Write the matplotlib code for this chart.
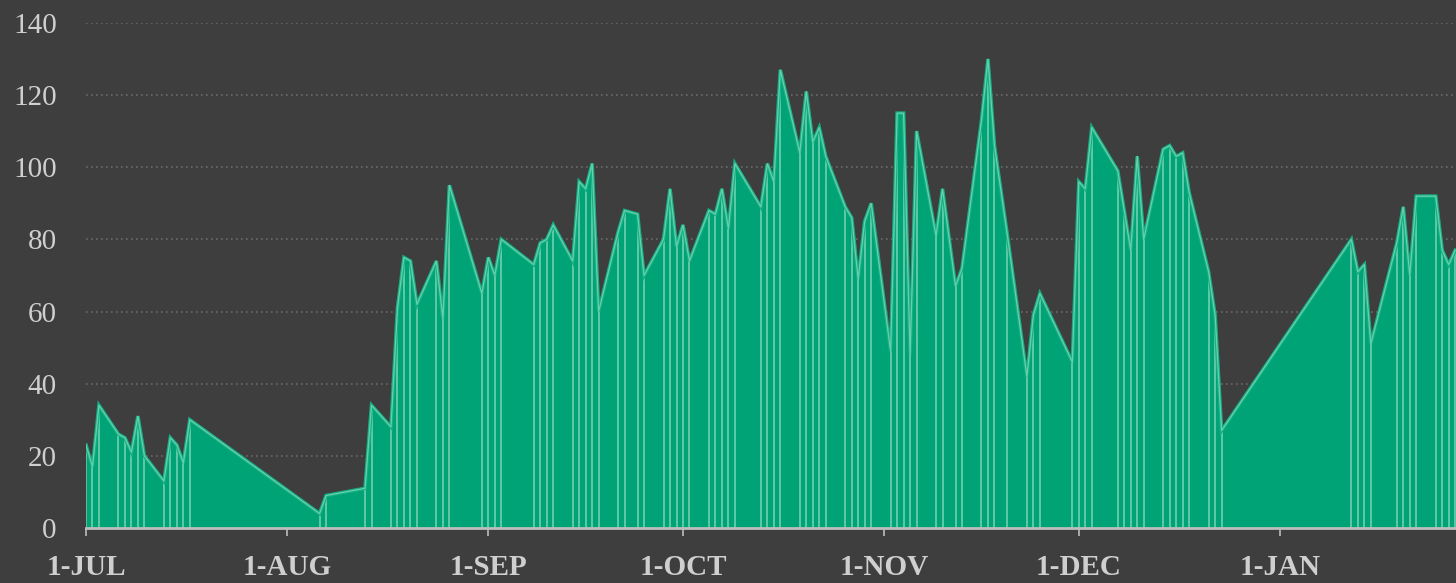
import matplotlib
matplotlib.use("Agg")
import matplotlib.pyplot as plt
import matplotlib.dates as mdates
import pandas as pd

# daily values (weekdays only)
dates = [
    "2020-07-01", "2020-07-02", "2020-07-03", "2020-07-06", "2020-07-07", "2020-07-08",
    "2020-07-09", "2020-07-10", "2020-07-13", "2020-07-14", "2020-07-15", "2020-07-16",
    "2020-07-17",
    "2020-08-06", "2020-08-07", "2020-08-13", "2020-08-14", "2020-08-17", "2020-08-18",
    "2020-08-19", "2020-08-20", "2020-08-21", "2020-08-24", "2020-08-25", "2020-08-26",
    "2020-08-31",
    "2020-09-01", "2020-09-02", "2020-09-03", "2020-09-08", "2020-09-09", "2020-09-10",
    "2020-09-11", "2020-09-14", "2020-09-15", "2020-09-16", "2020-09-17", "2020-09-18",
    "2020-09-21", "2020-09-22", "2020-09-24", "2020-09-25", "2020-09-28", "2020-09-29",
    "2020-09-30",
    "2020-10-01", "2020-10-02", "2020-10-05", "2020-10-06", "2020-10-07", "2020-10-08",
    "2020-10-09", "2020-10-13", "2020-10-14", "2020-10-15", "2020-10-16", "2020-10-19",
    "2020-10-20", "2020-10-21", "2020-10-22", "2020-10-23", "2020-10-26", "2020-10-27",
    "2020-10-28", "2020-10-29", "2020-10-30",
    "2020-11-02", "2020-11-03", "2020-11-04", "2020-11-05", "2020-11-06", "2020-11-09",
    "2020-11-10", "2020-11-12", "2020-11-13", "2020-11-16", "2020-11-17", "2020-11-18",
    "2020-11-20", "2020-11-23", "2020-11-24", "2020-11-25", "2020-11-30",
    "2020-12-01", "2020-12-02", "2020-12-03", "2020-12-07", "2020-12-08", "2020-12-09",
    "2020-12-10", "2020-12-11", "2020-12-14", "2020-12-15", "2020-12-16", "2020-12-17",
    "2020-12-18", "2020-12-21", "2020-12-22", "2020-12-23",
    "2021-01-12", "2021-01-13", "2021-01-14", "2021-01-15", "2021-01-19", "2021-01-20",
    "2021-01-21", "2021-01-22", "2021-01-25", "2021-01-26", "2021-01-27", "2021-01-28",
]
values = [
    23, 17, 34, 26, 25, 21, 31, 20, 13, 25, 23, 18, 30,
    4, 9, 11, 34, 28, 61, 75, 74, 62, 74, 58, 95, 65,
    75, 70, 80, 73, 79, 80, 84, 74, 96, 94, 101, 60, 82, 88, 87, 70, 80, 94, 78,
    84, 74, 88, 87, 94, 83, 101, 89, 101, 96, 127, 104, 121, 107, 111, 103,
    89, 86, 69, 85, 90,
    49, 115, 115, 48, 110, 81, 94, 67, 72, 113, 130, 106, 81, 42, 59, 65, 46,
    96, 94, 111, 99, 88, 77, 103, 80, 105, 106, 103, 104, 93, 71, 59, 27,
    80, 71, 73, 51, 79, 89, 70, 92, 92, 77, 73, 77,
]

month_starts = ["2020-07-01", "2020-08-01", "2020-09-01", "2020-10-01",
                "2020-11-01", "2020-12-01", "2021-01-01"]
month_labels = ["1-JUL", "1-AUG", "1-SEP", "1-OCT", "1-NOV", "1-DEC", "1-JAN"]
y_ticks = [0, 20, 40, 60, 80, 100, 120, 140]

bg = "#3e3e3e"
green = "#00a376"
mint = "#8fdcc0"
txt = "#cfcfcf"

x = pd.to_datetime(dates)

fig = plt.figure(figsize=(14.56, 5.83), dpi=100, facecolor=bg)
ax = fig.add_axes([86 / 1456, 55 / 583, 1 - 86 / 1456, 505 / 583])
ax.set_facecolor(bg)

ax.fill_between(x, 0, values, color=green, lw=0, zorder=2)
ax.vlines(x, 0, values, color=mint, lw=1.1, alpha=0.85, zorder=3)
ax.plot(x, values, color="#14b083", lw=2.6, zorder=4, solid_joinstyle="miter")
ax.plot(x, values, color=mint, lw=0.9, alpha=0.7, zorder=5)

ax.set_ylim(0, 140)
ax.set_xlim(pd.Timestamp("2020-07-01"), pd.Timestamp("2021-01-28 03:00"))

ax.set_yticks(y_ticks)
ax.set_yticklabels([str(v) for v in y_ticks])
ax.set_xticks(pd.to_datetime(month_starts))
ax.set_xticklabels(month_labels)

ax.grid(axis="y", color="#6a6a6a", ls=(0, (1, 2)), lw=1.2, zorder=1)
ax.grid(axis="x", visible=False)

for s in ["top", "right", "left"]:
    ax.spines[s].set_visible(False)
ax.spines["bottom"].set_color("#bdbdbd")
ax.spines["bottom"].set_linewidth(2)
ax.spines["bottom"].set_zorder(6)

ax.tick_params(axis="y", length=0, pad=21, labelsize=21, labelcolor=txt)
ax.tick_params(axis="x", length=6, width=1.2, color="#bdbdbd", pad=13,
               labelsize=21, labelcolor=txt)
for lab in ax.get_yticklabels():
    lab.set_fontfamily("Liberation Serif")
for lab in ax.get_xticklabels():
    lab.set_fontfamily("Liberation Serif")
    lab.set_fontweight("bold")

fig.savefig("out.png", dpi=100, facecolor=bg)
